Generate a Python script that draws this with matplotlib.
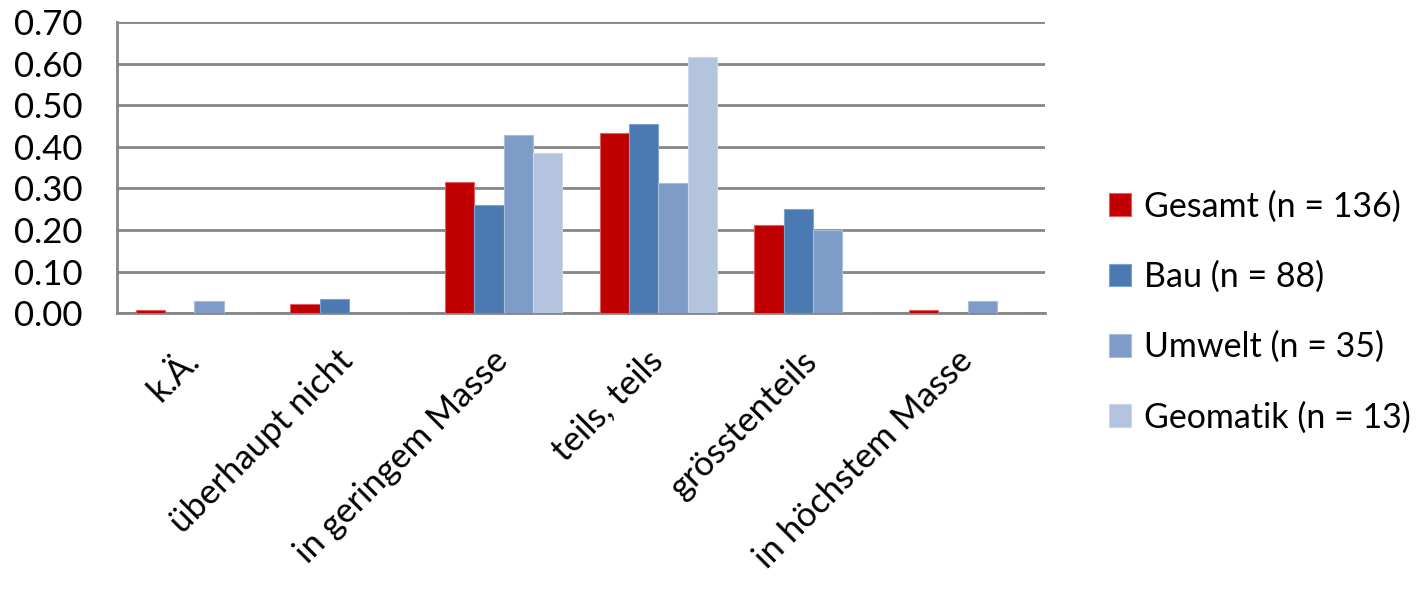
import numpy as np
import matplotlib
matplotlib.use('Agg')
import matplotlib.pyplot as plt
import matplotlib.transforms as mtransforms

plt.rcParams['font.family'] = ['Lato', 'DejaVu Sans']

# Anteile je Antwortkategorie
categories = ['k.Ä.', 'überhaupt nicht', 'in geringem Masse', 'teils, teils',
              'grösstenteils', 'in höchstem Masse']
gesamt = [0.007, 0.022, 0.316, 0.434, 0.213, 0.007]
bau = [0.0, 0.034, 0.261, 0.455, 0.250, 0.0]
umwelt = [0.029, 0.0, 0.429, 0.314, 0.200, 0.029]
geomatik = [0.0, 0.0, 0.385, 0.615, 0.0, 0.0]

series = [gesamt, bau, umwelt, geomatik]
labels = ['Gesamt (n = 136)', 'Bau (n = 88)', 'Umwelt (n = 35)', 'Geomatik (n = 13)']
colors = ['#C00000', '#4A7AB1', '#7F9CC9', '#B4C3DE']
edges = ['#E06060', '#7FA3CF', '#A9BEDD', '#CBD6EA']

fig = plt.figure(figsize=(14.22, 5.92), dpi=100)
ax = fig.add_axes([0.0823, 0.471, 0.6526, 0.492])

x = np.arange(len(categories))
w = 0.19
for i, s in enumerate(series):
    ax.bar(x + (i - 1.5) * w, s, w, color=colors[i], edgecolor=edges[i],
           linewidth=0.8, label=labels[i], zorder=3)

ax.set_xlim(-0.5, len(categories) - 0.5)
ax.set_ylim(0, 0.70)
yt = np.arange(0, 0.71, 0.1)
ax.set_yticks(yt)
ax.set_yticklabels(['%.2f' % v for v in yt], fontsize=25)
ax.yaxis.grid(True, color='#868686', linewidth=2, zorder=0)
ax.set_axisbelow(True)

ax.set_xticks(x)
ax.set_xticklabels(categories, fontsize=25, rotation=45, ha='right', va='top',
                   rotation_mode='anchor')
ax.tick_params(axis='both', length=0)
ax.tick_params(axis='y', pad=25)
ax.tick_params(axis='x', pad=8)
shift = mtransforms.ScaledTranslation(-12 / 100, -20 / 100, fig.dpi_scale_trans)
for lbl in ax.get_xticklabels():
    lbl.set_transform(lbl.get_transform() + shift)

for sp in ['top', 'right']:
    ax.spines[sp].set_visible(False)
for sp in ['left', 'bottom']:
    ax.spines[sp].set_color('#868686')
    ax.spines[sp].set_linewidth(2)

fig.legend(loc='center left', bbox_to_anchor=(0.758, 0.473), frameon=False,
           fontsize=24.5, handlelength=0.65, handleheight=0.65, handletextpad=0.4,
           labelspacing=1.12)

fig.savefig('out.png', dpi=100)
